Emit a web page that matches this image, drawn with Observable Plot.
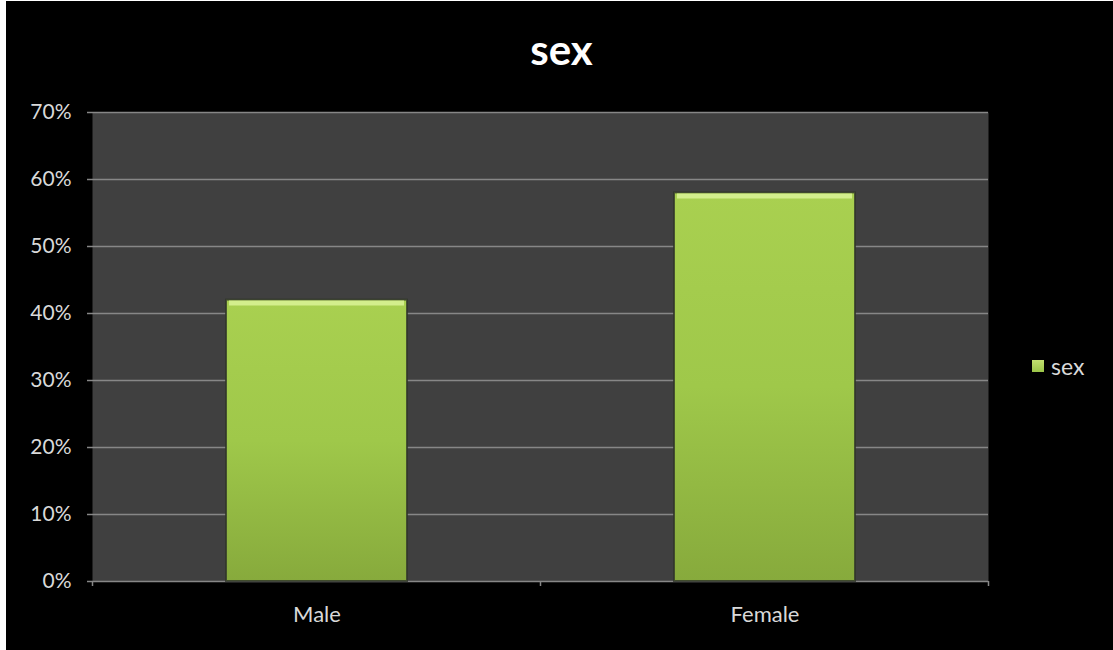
<!DOCTYPE html>
<html>
<head>
<meta charset="utf-8">
<script src="https://cdn.jsdelivr.net/npm/d3@7"></script>
<script src="https://cdn.jsdelivr.net/npm/@observablehq/plot@0.6"></script>
<style>
  html, body { margin: 0; padding: 0; background: #ffffff; width: 1113px; height: 650px; overflow: hidden; }
  #wrap { position: absolute; left: 6px; top: 1px; width: 1107px; height: 649px; background: #000; }
  #title { position: absolute; left: 0; width: 1111px; top: 27px; text-align: center; color: #fff;
           font: bold 42px/42px Lato, sans-serif; }
  #legend { position: absolute; left: 1026px; top: 351px; color: #d9d9d9; font: 23px/28px Lato, sans-serif; display: flex; align-items: center; }
  #legend .sw { width: 12px; height: 12px; margin-right: 7px; background: linear-gradient(#c3e070, #9bc548); }
  #chart svg { display: block; }
</style>
</head>
<body>
<div id="wrap">
  <div id="chart"></div>
  <div id="title"></div>
  <div id="legend"><span class="sw"></span><span id="legtext"></span></div>
</div>
<script>
const chartTitle = "sex";
const seriesName = "sex";
const categories = ["Male", "Female"];
const values = [0.42, 0.58];
const yTicks = [0, 0.1, 0.2, 0.3, 0.4, 0.5, 0.6, 0.7];

const data = categories.map((c, i) => ({category: c, value: values[i]}));

document.getElementById("title").textContent = chartTitle;
document.getElementById("legtext").textContent = seriesName;

const chart = Plot.plot({
  width: 1107,
  height: 649,
  marginLeft: 86,
  marginRight: 125,
  marginTop: 111,
  marginBottom: 69,
  style: {background: "#000", color: "#d9d9d9", fontFamily: "Lato, sans-serif", fontSize: "21px"},
  x: {domain: categories, paddingInner: 0.596, paddingOuter: 0.298, label: null},
  y: {domain: [0, 0.7], label: null},
  marks: [
    Plot.frame({fill: "#404040", stroke: "none"}),
    Plot.gridY(yTicks, {stroke: "#878787", strokeOpacity: 1, strokeWidth: 1.5}),
    Plot.axisY({ticks: yTicks, tickFormat: d3.format(".0%"), tickSize: 5, tickPadding: 16,
                stroke: "#878787", strokeWidth: 1.5, fill: "#d9d9d9", fontSize: 21}),
    Plot.barY(data, {x: "category", y: "value", fill: "url(#barGrad)", stroke: "#2f3529", strokeWidth: 2, strokeOpacity: 0.8}),
    Plot.tickY(data, {x: "category", y: "value", stroke: "#d3ee8c", strokeWidth: 5, dy: 3, inset: 3}),
    Plot.axisX({tickSize: 0, tickPadding: 25, fill: "#d9d9d9", fontSize: 22})
  ]
});

const svg = d3.select(chart);
svg.insert("defs", ":first-child").html(`
  <linearGradient id="barGrad" x1="0" y1="0" x2="0" y2="1">
    <stop offset="0" stop-color="#a9d050"/>
    <stop offset="0.5" stop-color="#9fc84a"/>
    <stop offset="1" stop-color="#87aa3c"/>
  </linearGradient>`);

// category boundary ticks below the axis, placed with the library's x scale
const xs = chart.scale("x");
const yScale = chart.scale("y");
const y0 = yScale.apply(0);
const step = xs.step, bw = xs.bandwidth;
const bounds = [];
categories.forEach((c, i) => {
  const left = xs.apply(c) - (step - bw) / 2;
  if (i === 0) bounds.push(left);
  bounds.push(left + step);
});
svg.append("g").selectAll("line").data(bounds).join("line")
  .attr("x1", d => d).attr("x2", d => d)
  .attr("y1", y0).attr("y2", y0 + 5)
  .attr("stroke", "#878787").attr("stroke-width", 1.5);

document.getElementById("chart").appendChild(chart);
</script>
</body>
</html>
